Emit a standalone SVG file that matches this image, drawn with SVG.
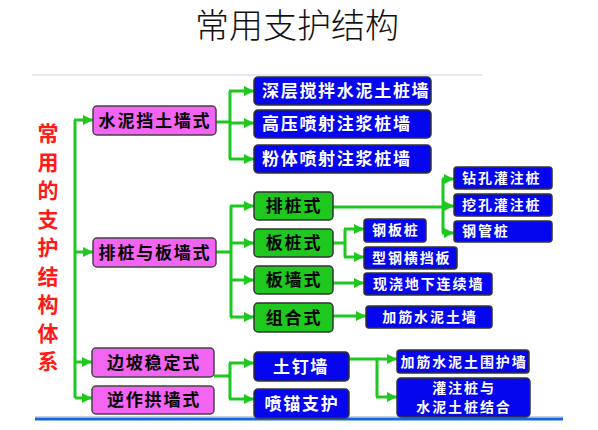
<svg xmlns="http://www.w3.org/2000/svg" width="598" height="430" viewBox="0 0 598 430">
<defs>
<marker id="ah" markerUnits="userSpaceOnUse" markerWidth="10" markerHeight="10" refX="10" refY="5" orient="auto">
<path d="M0,0 L10,5 L0,10 Z" fill="#1ec81e"/>
</marker>
<style>
.title{font-family:"Noto Sans CJK SC","Noto Sans",sans-serif;font-size:34px;fill:#111;font-weight:300}
.side{font-family:"Noto Sans CJK SC",sans-serif;font-size:21px;fill:#ff1a1a;font-weight:bold;writing-mode:vertical-rl;letter-spacing:7.5px}
.pink{fill:#f364f3;stroke:#444;stroke-width:1.5}
.blue{fill:#0505ee;stroke:#333;stroke-width:1.5}
.green{fill:#1ec81e;stroke:#333;stroke-width:1.5}
.tk{font-family:"Noto Sans CJK SC",sans-serif;font-size:17px;fill:#000;font-weight:bold;letter-spacing:1.8px}
.tw{font-family:"Noto Sans CJK SC",sans-serif;font-size:17px;fill:#fff;font-weight:bold;letter-spacing:1.7px}
.ts{font-family:"Noto Sans CJK SC",sans-serif;font-size:14px;fill:#fff;font-weight:bold;letter-spacing:1.9px}
.c{fill:none;stroke:#1ec81e;stroke-width:3}
.a{marker-end:url(#ah)}
</style>
</defs>
<rect width="598" height="430" fill="#fff"/>
<text class="title" x="297" y="38" text-anchor="middle">常用支护结构</text>
<line x1="32" y1="75" x2="482" y2="75" stroke="#e2e9f5" stroke-width="2"/>
<line x1="35" y1="416.5" x2="563" y2="416.5" stroke="#c8d4e4" stroke-width="1"/>
<line x1="35" y1="419" x2="563" y2="419" stroke="#1466e0" stroke-width="3"/>
<g id="side">
<text class="side" x="48" y="123">常用的支护结构体系</text>
</g>
<g id="connectors">
<path class="c" d="M75,120 V398"/>
<path class="c a" d="M74,120 H93"/>
<path class="c a" d="M75,252 H93"/>
<path class="c a" d="M75,362 H92"/>
<path class="c a" d="M75,398 H92"/>
<path class="c" d="M216,122 H230 M230,91 V159"/>
<path class="c a" d="M229,91 H254"/>
<path class="c a" d="M230,123 H254"/>
<path class="c a" d="M229,159 H254"/>
<path class="c" d="M216,252 H231 M231,206 V317"/>
<path class="c a" d="M230,206 H254"/>
<path class="c a" d="M231,243 H254"/>
<path class="c a" d="M231,280 H254"/>
<path class="c a" d="M230,317 H254"/>
<path class="c" d="M333,207 H443 M443,179 V233"/>
<path class="c a" d="M442,179 H454"/>
<path class="c a" d="M443,206 H454"/>
<path class="c a" d="M442,233 H454"/>
<path class="c" d="M333,243 H345 M345,229 V257"/>
<path class="c a" d="M344,229 H364"/>
<path class="c a" d="M344,257 H364"/>
<path class="c a" d="M333,283 H364"/>
<path class="c a" d="M333,316 H366"/>
<path class="c" d="M214,376 H230 M230,363 V399"/>
<path class="c a" d="M229,363 H254"/>
<path class="c a" d="M229,399 H254"/>
<path class="c" d="M349,359 H377 V397"/>
<path class="c a" d="M377,359 H397"/>
<path class="c a" d="M376,397 H397"/>
</g>
<g id="n1"><rect class="pink" x="93" y="106" width="123" height="29" rx="4"/><text class="tk" x="155" y="127" text-anchor="middle">水泥挡土墙式</text></g>
<g id="n2"><rect class="pink" x="93" y="238" width="123" height="29" rx="4"/><text class="tk" x="155" y="259" text-anchor="middle">排桩与板墙式</text></g>
<g id="n3"><rect class="pink" x="92" y="348" width="122" height="29" rx="4"/><text class="tk" x="154" y="369" text-anchor="middle">边坡稳定式</text></g>
<g id="n4"><rect class="pink" x="92" y="386" width="122" height="28" rx="4"/><text class="tk" x="154" y="406" text-anchor="middle">逆作拱墙式</text></g>
<g id="b1"><rect class="blue" x="254" y="77" width="177" height="28" rx="4"/><text class="tw" x="262" y="97">深层搅拌水泥土桩墙</text></g>
<g id="b2"><rect class="blue" x="254" y="110" width="177" height="28" rx="4"/><text class="tw" x="262" y="130">高压喷射注浆桩墙</text></g>
<g id="b3"><rect class="blue" x="254" y="145" width="177" height="28" rx="4"/><text class="tw" x="262" y="165">粉体喷射注浆桩墙</text></g>
<g id="g1"><rect class="green" x="254" y="192" width="79" height="28" rx="4"/><text class="tk" x="294" y="212" text-anchor="middle">排桩式</text></g>
<g id="g2"><rect class="green" x="254" y="229" width="79" height="28" rx="4"/><text class="tk" x="294" y="249" text-anchor="middle">板桩式</text></g>
<g id="g3"><rect class="green" x="254" y="266" width="79" height="28" rx="4"/><text class="tk" x="294" y="286" text-anchor="middle">板墙式</text></g>
<g id="g4"><rect class="green" x="254" y="303" width="79" height="29" rx="4"/><text class="tk" x="294" y="324" text-anchor="middle">组合式</text></g>
<g id="s1"><rect class="blue" x="454" y="167" width="98" height="22" rx="3"/><text class="ts" x="462" y="183">钻孔灌注桩</text></g>
<g id="s2"><rect class="blue" x="454" y="194" width="98" height="22" rx="3"/><text class="ts" x="462" y="210">挖孔灌注桩</text></g>
<g id="s3"><rect class="blue" x="454" y="221" width="98" height="21" rx="3"/><text class="ts" x="462" y="236">钢管桩</text></g>
<g id="s4"><rect class="blue" x="364" y="219" width="62" height="23" rx="3"/><text class="ts" x="372" y="235">钢板桩</text></g>
<g id="s5"><rect class="blue" x="364" y="247" width="93" height="22" rx="3"/><text class="ts" x="372" y="263">型钢横挡板</text></g>
<g id="s6"><rect class="blue" x="364" y="273" width="128" height="22" rx="3"/><text class="ts" x="373" y="289">现浇地下连续墙</text></g>
<g id="s7"><rect class="blue" x="366" y="306" width="126" height="22" rx="3"/><text class="ts" x="430" y="322" text-anchor="middle">加筋水泥土墙</text></g>
<g id="t1"><rect class="blue" x="254" y="352" width="95" height="29" rx="4"/><text class="tw" x="301" y="373" text-anchor="middle">土钉墙</text></g>
<g id="t2"><rect class="blue" x="254" y="389" width="95" height="29" rx="4"/><text class="tw" x="302" y="410" text-anchor="middle">喷锚支护</text></g>
<g id="t3"><rect class="blue" x="397" y="350" width="132" height="23" rx="3"/><text class="ts" x="464" y="367" text-anchor="middle">加筋水泥土围护墙</text></g>
<g id="t4"><rect class="blue" x="397" y="378" width="133" height="39" rx="4"/><text class="ts" x="464" y="393" text-anchor="middle">灌注桩与</text><text class="ts" x="464" y="412" text-anchor="middle">水泥土桩结合</text></g>
</svg>
